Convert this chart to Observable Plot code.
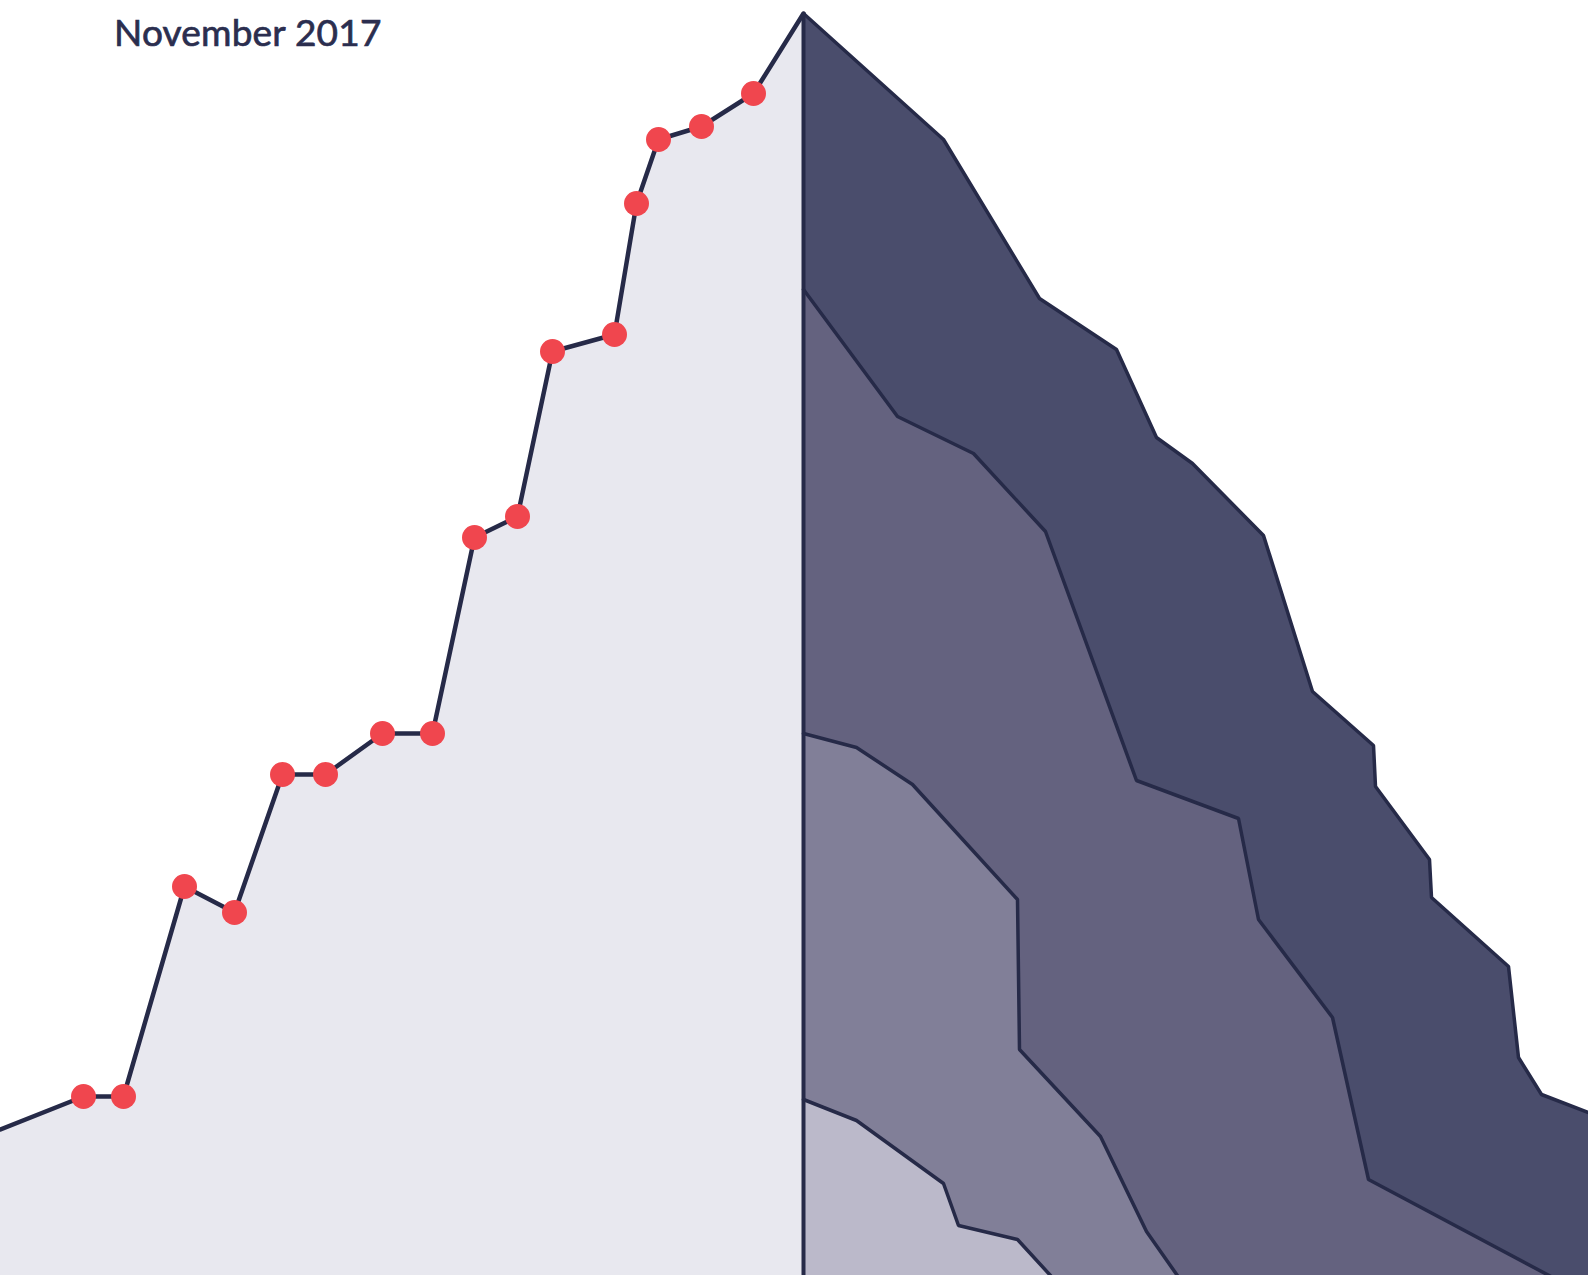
<!DOCTYPE html>
<html><head><meta charset="utf-8">
<script src="https://cdn.jsdelivr.net/npm/d3@7"></script>
<script src="https://cdn.jsdelivr.net/npm/@observablehq/plot@0.6"></script>
<style>
body{margin:0;background:#fff;}
#wrap{position:relative;width:1588px;height:1275px;overflow:hidden;}
#title{position:absolute;left:114px;top:9px;font-family:Lato,"Open Sans",sans-serif;font-size:37px;color:#2b2e4f;z-index:2;white-space:nowrap;-webkit-text-stroke:0.7px #2b2e4f;letter-spacing:0.2px;}
#wrap svg{position:absolute;left:0;top:0;}
</style></head><body>
<div id="wrap"><div id="title">November 2017</div></div>
<script>
// Climb (left side): position along ridge and elevation; milestone dots
const climbX = [0, 83, 123, 184, 234, 282, 325, 382, 432, 474, 517, 552, 614, 636, 658, 701, 753, 803];
const climbY = [146, 179, 179, 389, 363, 501, 501, 542, 542, 738, 759, 924, 941, 1072, 1136, 1149, 1182, 1262];
const milestone = [false, true, true, true, true, true, true, true, true, true, true, true, true, true, true, true, true, false];

// Descent layers (right side), outermost to innermost
const layer1X = [803, 943, 1039, 1116, 1156, 1192, 1263, 1312, 1373, 1375, 1429, 1431, 1508, 1518, 1541, 1588];
const layer1Y = [1262, 1136, 977, 926, 838, 812, 740, 584, 530, 489, 416, 378, 309, 218, 181, 163];
const layer2X = [803, 897, 973, 1045, 1136, 1238, 1258, 1332, 1368, 1588];
const layer2Y = [986, 859, 822, 744, 495, 457, 356, 258, 96, -21];
const layer3X = [803, 856, 912, 1017, 1019, 1100, 1146, 1200];
const layer3Y = [542, 528, 491, 376, 226, 139, 44, -33];
const layer4X = [803, 856, 943, 958, 1017, 1050, 1080];
const layer4Y = [176, 155, 92, 50, 36, 0, -33];

const layerFills = ["#4a4d6c", "#64627f", "#817f98", "#bbb9ca"];
const ink = "#262a48";

const climb = climbX.map((x, i) => ({x, y: climbY[i], m: milestone[i]}));
const layers = [[layer1X, layer1Y], [layer2X, layer2Y], [layer3X, layer3Y], [layer4X, layer4Y]]
  .map(([xs, ys]) => xs.map((x, i) => ({x, y: ys[i]})));

const marks = [
  Plot.areaY(climb, {x: "x", y: "y", fill: "#e8e8ef", clip: true})
];
layers.forEach((L, i) => marks.push(Plot.areaY(L, {x: "x", y: "y", fill: layerFills[i], clip: true})));
layers.forEach((L) => marks.push(Plot.line(L, {x: "x", y: "y", stroke: ink, strokeWidth: 3.5, strokeLinejoin: "miter", clip: true})));
marks.push(Plot.ruleX([climbX[climbX.length - 1]], {y1: 0, y2: climbY[climbY.length - 1], stroke: ink, strokeWidth: 4, clip: true}));
marks.push(Plot.line(climb, {x: "x", y: "y", stroke: ink, strokeWidth: 4.5, strokeLinejoin: "miter", clip: true}));
marks.push(Plot.dot(climb.filter(d => d.m), {x: "x", y: "y", r: 12.5, fill: "#f0464e", stroke: "none"}));

const plot = Plot.plot({
  width: 1588, height: 1275, margin: 0,
  x: {domain: [0, 1588], axis: null},
  y: {domain: [0, 1275], axis: null},
  style: {background: "transparent", overflow: "hidden"},
  marks
});
document.getElementById("wrap").prepend(plot);
</script>
</body></html>
